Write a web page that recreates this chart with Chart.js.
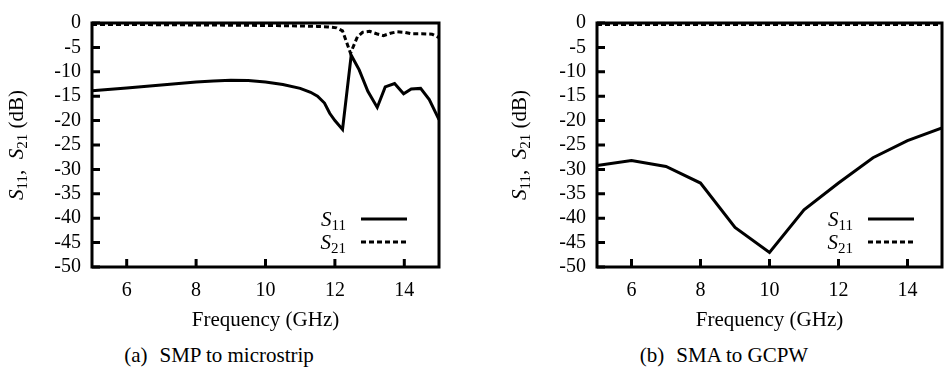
<!DOCTYPE html>
<html>
<head>
<meta charset="utf-8">
<script src="https://cdn.jsdelivr.net/npm/chart.js@4.4.0/dist/chart.umd.min.js"></script>
<style>
  body { margin: 0; background: #fff; width: 944px; height: 374px; position: relative; overflow: hidden; font-family: 'Liberation Serif', serif; }
  .box { position: absolute; top: 0; width: 472px; height: 335px; }
  .cap { position: absolute; top: 343px; font-size: 21px; transform: translateX(-50%); white-space: nowrap; color: #000; }
  .cap span { display: inline-block; width: 12px; }
</style>
</head>
<body>
<div class="box" style="left:0"><canvas id="chartA" width="472" height="335"></canvas></div>
<div class="box" style="left:472px"><canvas id="chartB" width="472" height="335"></canvas></div>
<div class="cap" style="left:219px">(a)<span></span>SMP to microstrip</div>
<div class="cap" style="left:724px">(b)<span></span>SMA to GCPW</div>
<script>
// (a) SMP to microstrip
var freqA11 = [5, 6, 7, 8, 8.5, 9, 9.5, 10, 10.5, 11, 11.3, 11.5, 11.7, 11.85, 12.0, 12.22, 12.47, 12.7, 12.95, 13.22, 13.45, 13.72, 13.98, 14.2, 14.47, 14.72, 15];
var s11A = [-13.9, -13.3, -12.7, -12.1, -11.9, -11.75, -11.8, -12.1, -12.6, -13.4, -14.2, -15.0, -16.4, -18.5, -20.0, -21.8, -6.6, -9.6, -14.0, -17.3, -13.1, -12.4, -14.5, -13.5, -13.4, -15.7, -19.8];
var freqA21 = [5, 6, 7, 8, 9, 10, 11, 11.5, 11.8, 12.05, 12.22, 12.45, 12.65, 12.8, 13.0, 13.2, 13.4, 13.6, 13.8, 14.0, 14.2, 14.5, 14.8, 15];
var s21A = [-0.3, -0.3, -0.35, -0.4, -0.45, -0.5, -0.6, -0.7, -0.8, -1.0, -1.6, -6.2, -2.8, -1.9, -1.7, -2.2, -2.6, -2.1, -1.8, -1.9, -2.2, -2.2, -2.3, -3.0];

// (b) SMA to GCPW
var freqB = [5, 6, 7, 8, 9, 10, 11, 12, 13, 14, 15];
var s11B = [-29.2, -28.2, -29.4, -32.8, -41.9, -47.0, -38.3, -32.8, -27.6, -24.1, -21.5];
var s21B = [-0.3, -0.3, -0.3, -0.3, -0.3, -0.3, -0.3, -0.3, -0.3, -0.3, -0.3];

var xTicks = [6, 8, 10, 12, 14];
var FONT = "'Liberation Serif', serif";

function pts(xs, ys) {
    return xs.map(function (x, i) { return { x: x, y: ys[i] }; });
}

// text pieces: S italic, digits as subscript
function richParts(sub) {
    return [{ t: "S", f: "italic 21px " + FONT, dy: 0 }, { t: sub, f: "15px " + FONT, dy: 4 }];
}
function drawParts(ctx, parts, x, y) {
    parts.forEach(function (p) {
        ctx.font = p.f;
        ctx.fillText(p.t, x, y + p.dy);
        x += ctx.measureText(p.t).width;
    });
    return x;
}
function partsWidth(ctx, parts) {
    var w = 0;
    parts.forEach(function (p) { ctx.font = p.f; w += ctx.measureText(p.t).width; });
    return w;
}

var framePlugin = {
    id: "frame",
    afterDatasetsDraw: function (chart, args, opts) {
        var ctx = chart.ctx, a = chart.chartArea;
        var xs = chart.scales.x, ys = chart.scales.y;
        ctx.save();
        ctx.strokeStyle = "#000";
        ctx.fillStyle = "#000";
        ctx.lineWidth = 3;
        ctx.strokeRect(a.left, a.top, a.right - a.left, a.bottom - a.top);
        // inward ticks
        ctx.beginPath();
        xs.ticks.forEach(function (t) {
            var px = xs.getPixelForValue(t.value);
            ctx.moveTo(px, a.bottom);
            ctx.lineTo(px, a.bottom - 8);
        });
        ys.ticks.forEach(function (t) {
            var py = ys.getPixelForValue(t.value);
            ctx.moveTo(a.left, py);
            ctx.lineTo(a.left + 8, py);
        });
        ctx.stroke();

        // legend
        var rows = [{ sub: "11", dash: [] }, { sub: "21", dash: [5, 3] }];
        ctx.textBaseline = "alphabetic";
        rows.forEach(function (r, i) {
            var ly = a.bottom - 48 + i * 23;
            var x1 = a.right - opts.legRight - 46, x2 = a.right - opts.legRight;
            ctx.setLineDash(r.dash);
            ctx.lineWidth = 3;
            ctx.beginPath();
            ctx.moveTo(x1, ly);
            ctx.lineTo(x2, ly);
            ctx.stroke();
            ctx.setLineDash([]);
            var parts = richParts(r.sub);
            var w = partsWidth(ctx, parts);
            drawParts(ctx, parts, x1 - 15 - w, ly + 7);
        });

        // y axis title
        var title = richParts("11").concat([{ t: ",  ", f: "21px " + FONT, dy: 0 }])
            .concat(richParts("21")).concat([{ t: " (dB)", f: "21px " + FONT, dy: 0 }]);
        var tw = partsWidth(ctx, title);
        ctx.translate(opts.titleX, (a.top + a.bottom) / 2);
        ctx.rotate(-Math.PI / 2);
        drawParts(ctx, title, -tw / 2, 7);
        ctx.restore();
    }
};

function makeChart(id, f11, v11, f21, v21, yWidth, padRight, titleX, legRight) {
    return new Chart(document.getElementById(id).getContext("2d"), {
        type: "line",
        data: {
            datasets: [
                {
                    label: "S11",
                    data: pts(f11, v11),
                    borderColor: "#000",
                    borderWidth: 3,
                    pointRadius: 0,
                    tension: 0,
                    fill: false,
                },
                {
                    label: "S21",
                    data: pts(f21, v21),
                    borderColor: "#000",
                    borderWidth: 3,
                    borderDash: [5, 3],
                    pointRadius: 0,
                    tension: 0,
                    fill: false,
                },
            ],
        },
        options: {
            responsive: false,
            animation: false,
            devicePixelRatio: 1,
            layout: { padding: { top: 14, right: padRight, left: 0, bottom: 0 } },
            plugins: {
                legend: { display: false },
                tooltip: { enabled: false },
                frame: { titleX: titleX, legRight: legRight },
            },
            scales: {
                x: {
                    type: "linear",
                    min: 5,
                    max: 15,
                    afterBuildTicks: function (s) {
                        s.ticks = xTicks.map(function (v) { return { value: v }; });
                    },
                    afterFit: function (s) { s.height = 68; },
                    ticks: { color: "#000", font: { family: FONT, size: 20 }, padding: 12, maxRotation: 0, autoSkip: false },
                    grid: { display: false, drawTicks: false },
                    border: { display: false },
                    title: {
                        display: true,
                        text: "Frequency (GHz)",
                        color: "#000",
                        font: { family: FONT, size: 21 },
                        padding: { top: 0, bottom: 2 },
                    },
                },
                y: {
                    min: -50,
                    max: 0,
                    afterFit: function (s) { s.width = yWidth; },
                    ticks: { stepSize: 5, color: "#000", font: { family: FONT, size: 20 }, padding: 11, autoSkip: false },
                    grid: { display: false, drawTicks: false },
                    border: { display: false },
                },
            },
        },
        plugins: [framePlugin],
    });
}

makeChart("chartA", freqA11, s11A, freqA21, s21A, 92, 33, 16, 32);
makeChart("chartB", freqB, s11B, freqB, s21B, 125, 2, 47, 28);
</script>
</body>
</html>
